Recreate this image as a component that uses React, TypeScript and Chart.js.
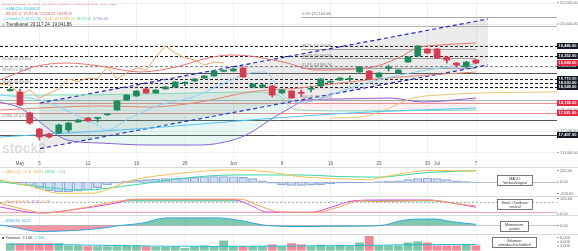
import React, { useEffect, useRef } from 'react';
import { Chart, registerables } from 'chart.js';

Chart.register(...registerables);

// ---------- layout ----------
const AXIS_W = 21;
const X_MIN = -2.06;
const X_MAX = 55.36;
const FONT = '"Liberation Sans", Arial, sans-serif';

const P_MAIN = { top: 0, h: 167, pad: 10, min: 16893, max: 20561 };
const P_MACD = { top: 167, h: 29, min: -244, max: 261 };
const P_STO = { top: 196, h: 19, min: 0, max: 115 };
const P_MOM = { top: 215, h: 19, min: -425, max: 525 };
const P_VOL = { top: 234, h: 17, min: -325, max: 7580 };

// ---------- time axis ----------
const firstIndex = -1;
const weekIdx = [2, 7, 12, 17, 22, 27, 32, 37, 42, 47];
const xLabelIdx = [0, 2, 7, 12, 17, 22, 27, 32, 37, 42, 43, 47];
const xLabelText = ['May', '5', '12', '19', '26', 'Jun', '9', '16', '23', '30', 'Jul', '7'];

// ---------- candles (index -1 .. 47) ----------
const opens = [18440, 18412, 17921, 17547, 17430, 17454, 17524, 17711, 17804, 17795, 17880, 17991, 18225, 18318, 18482, 18388, 18482, 18528, 18615, 18668, 18738, 18785, 18895, 18902, 18972, 18528, 18528, 18552, 18388, 18435, 18395, 18475, 18552, 18640, 18692, 18705, 18879, 18902, 18762, 18965, 18855, 19112, 19252, 19416, 19416, 19229, 19089, 18996, 19159];
const highs = [18490, 18480, 17940, 17560, 17450, 17660, 17700, 17770, 17815, 17815, 17905, 18210, 18350, 18445, 18495, 18470, 18540, 18655, 18650, 18725, 18795, 18915, 18925, 18960, 18985, 18610, 18590, 18570, 18470, 18445, 18458, 18552, 18725, 18670, 18750, 18785, 19010, 18915, 18865, 19040, 18935, 19240, 19500, 19430, 19430, 19240, 19100, 19125, 19170];
const lows = [18430, 18090, 17660, 17290, 17340, 17440, 17477, 17700, 17725, 17711, 17865, 17980, 18215, 18310, 18380, 18380, 18475, 18520, 18560, 18660, 18730, 18775, 18885, 18895, 18750, 18520, 18520, 18295, 18380, 18260, 18295, 18412, 18540, 18625, 18685, 18668, 18870, 18700, 18750, 18902, 18845, 19100, 19240, 19310, 19190, 19089, 18996, 18985, 19075];
const closes = [18470, 18108, 17687, 17360, 17360, 17641, 17687, 17757, 17734, 17810, 17895, 18201, 18341, 18435, 18388, 18458, 18528, 18645, 18630, 18715, 18785, 18902, 18910, 18949, 18762, 18598, 18575, 18341, 18458, 18271, 18380, 18490, 18715, 18655, 18738, 18720, 18996, 18715, 18855, 18980, 18925, 19229, 19486, 19323, 19206, 19159, 19042, 19112, 19089];
const volumes = [3150, 3150, 3150, 3150, 3150, 3150, 2100, 2100, 1750, 1750, 1750, 1750, 2100, 2100, 1750, 1400, 1400, 1750, 900, 1750, 2100, 1750, 4400, 1750, 1750, 1750, 1750, 2600, 1750, 3150, 2600, 1750, 2450, 1750, 2450, 1750, 3500, 6500, 2100, 2100, 2100, 3500, 4000, 3500, 2100, 2100, 2100, 2800, 2100];
const macdHist = [0, -20, -60, -110, -150, -170, -170, -160, -140, -100, -50, -20, 10, 30, 40, 50, 60, 60, 70, 80, 90, 95, 95, 90, 80, 60, 20, -20, -50, -60, -60, -55, -45, -30, -20, -15, -10, -5, 5, 10, 20, 40, 60, 70, 60, 40, 20, 5, -5];

// ---------- overlay lines in the price panel (x = bar index, y = price) ----------
const chanX = [2.06, 48.25];
const chanUpper = [18155, 20117];
const chanLower = [17090, 19042];
const bbUpperX = [-2.06, 0, 1.34, 4.85, 8.25, 12.37, 16.5, 18.56, 21.65, 23.71, 27.11, 30.62, 36.39, 39.18, 40.93, 43.3, 47];
const bbUpperV = [18692, 18879, 18996, 19089, 19019, 18879, 19019, 19159, 19276, 19252, 19112, 18925, 18996, 19229, 19439, 19509, 19556];
const bbLowerX = [-2.06, 2.06, 8.25, 13.4, 18.56, 23.71, 28.87, 32.99, 39.18, 47];
const bbLowerV = [17990, 18038, 18085, 18061, 18178, 18412, 18505, 18622, 18762, 18879];
const purpleX = [-2.06, 0, 2.06, 3.09, 4.85, 8.25, 13.4, 18.56, 21.96, 23.71, 25.77, 27.84, 29.59, 32.99, 38.14, 41.55, 47];
const purpleV = [18178, 18038, 17711, 17524, 17290, 17220, 17173, 17173, 17290, 17454, 17757, 18038, 18225, 18248, 18271, 18178, 18271];
const mintX = [-2.06, 3.09, 13.4, 23.71, 25.77, 27.11, 27.84, 28.87, 34.02, 47];
const mintV = [18341, 18341, 18365, 18412, 18388, 18271, 18061, 17991, 17968, 17991];
const tanX = [31.96, 35.05, 37.11, 40.52, 43.3, 47.42, 55.36];
const tanV = [17804, 17827, 17944, 18271, 18341, 18388, 18412];
const cyanX = [-2.06, 4.85, 13.4, 23.71, 34.02, 47];
const cyanV = [17360, 17454, 17570, 17757, 17921, 18038];
const emaX = [-2.06, 2.06, 5.15, 7.94, 8.97, 11.34, 14.43, 17.84, 20.62, 23.71, 25.26, 27.11, 28.87, 31.96, 35.05, 39.18, 43.3, 47];
const emaV = [18341, 18225, 17944, 17641, 17524, 17804, 18108, 18295, 18575, 18855, 18879, 18341, 18155, 18341, 18575, 18809, 18972, 19066];
const chikouShift = 26;

// ---------- horizontal levels ----------
const mainTicks = [17000, 17500, 18000, 18500, 19000, 19500, 20000, 20500];
const levelDashBlack = [19486, 19252, 18715, 18630, 18528];
const levelDashGrey = [19019];
const levelSolidDark = [18855, 17757, 17407];
const levelSolidGrey = [19953, 18225];
const levelRed = [18155, 17921];
const fibLevels = [20164, 19423, 19195, 18966, 18225];
const fibLabels = ['0.0% (20,164.00)', '38.2% (19,423.30)', '50.0% (19,194.50)', '61.8% (18,965.70)', '100.0% (18,225.00)'];
const fibStart = 29;
const fibEnd = 47;
const leftLabelV = [19182, 18925, 18645, 17851];
const leftLabelText = ['19,182.40 (78.6%)', '18,925.10 (61.8%)', '18,645.30 (50.0%)', '17,851.20 (23.6%)'];
const tagBlack = [19486, 19252, 19019, 18715, 18630, 18528, 17407];
const tagRed = [18155, 17921];

// ---------- indicator panels ----------
const macdX = [-2.06, 1.03, 4.12, 7.22, 11.65, 16.5, 21.96, 25.46, 28.87, 32.5, 36, 37.1, 39.5, 42.06, 47];
const macdV = [35, -70, -197, -197, 35, 151, 209, 179, 92, 60, 40, 75, 150, 200, 190];
const sigX = [-2.06, 2.06, 6.5, 11.65, 16.8, 21.96, 28.87, 33, 37.1, 39.5, 42.06, 47];
const sigV = [5, -82, -139, -52, 64, 122, 122, 95, 85, 120, 165, 197];
const macdTicks = [200, 0, -200];
const kX = [-2.06, 2.06, 5.15, 10, 11.65, 21.96, 23.7, 25.46, 30, 31.96, 34.4, 37.1, 42.06, 44.3, 47];
const kV = [48, 12, 30, 73, 95, 95, 60, 18, 16, 45, 86, 91, 91, 75, 47];
const dX = [-2.06, 0, 2.6, 6.2, 11, 12.4, 22.7, 24.7, 26.8, 30.4, 33, 35, 37.1, 42.06, 44.85, 47];
const dV = [71, 40, 12, 40, 91, 95, 95, 55, 18, 16, 50, 86, 81, 90, 70, 55];
const stoTicks = [100, 0];
const momX = [-2.06, -1.03, 2.06, 5.15, 8.25, 10.3, 12.4, 15.15, 20.3, 22.7, 25.46, 28.87, 32, 36, 37.6, 39.5, 41.2, 42.8, 44.5, 47];
const momV = [25, -50, -300, -260, -150, 0, 100, 380, 380, 250, 0, -50, -40, -30, 30, 260, 320, 320, 190, 60];
const momTicks = [0];
const vmaX = [-1, 5, 10, 15, 20, 25, 30, 35, 40, 45, 47];
const vmaV = [2800, 2600, 2200, 1900, 1800, 1900, 2100, 2200, 2600, 2700, 2700];
const volTicks = [6000, 4000, 2000];

// ---------- texts ----------
const legendMain: [string, string][][] = [
  [['● NASDAQ Composite · 1T · stock3   O 19,159.00  H 19,170.00  L 19,075.00  C 19,089.00  −70.00 (−0.37%)', '#e0455a']],
  [['— EMA (20)  19,066.12', '#29b6f6']],
  [['— BB (20, 2)  19,217.40  19,556.21  18,878.59', '#d9574f']],
  [['— Ichimoku (9, 26, 52, 26)', '#26c6da'], ['  19,042.50', '#f5a35f'], ['  18,880.00', '#e2b84a'], ['  18,271.00', '#3dcfa0'], ['  17,991.00', '#8b65d6']],
  [['○ Trendkanal  20,117.24  19,041.86', '#333333']],
];
const legendMainY = [4.2, 8.9, 14, 19.2, 24.3];
const legendMainW = [116, 38, 70, 106, 70];

const GREEN = '#1e8c5c';
const RED = '#d93a4f';

type Level = { v: number; color: string; dash?: number[]; w?: number; from?: number; to?: number };

function backPlugin(id: string, cfg: { hGrid?: number[]; levels?: Level[]; watermark?: boolean }) {
  return {
    id,
    beforeDatasetsDraw(chart: any) {
      const { ctx, chartArea: a, scales } = chart;
      const xs = scales.x;
      const ys = scales.y;
      ctx.save();
      ctx.lineWidth = 1;
      ctx.strokeStyle = '#f0f0f3';
      (cfg.hGrid || []).forEach((v) => {
        const py = Math.round(ys.getPixelForValue(v)) + 0.5;
        ctx.beginPath(); ctx.moveTo(a.left, py); ctx.lineTo(a.right, py); ctx.stroke();
      });
      weekIdx.forEach((i) => {
        const px = Math.round(xs.getPixelForValue(i)) + 0.5;
        ctx.beginPath(); ctx.moveTo(px, a.top); ctx.lineTo(px, a.bottom); ctx.stroke();
      });
      if (cfg.watermark) {
        ctx.font = `bold 14px ${FONT}`;
        ctx.fillStyle = 'rgba(0,0,0,0.13)';
        ctx.textBaseline = 'alphabetic';
        ctx.textAlign = 'left';
        ctx.fillText('stock3', 2, 153, 44);
      }
      (cfg.levels || []).forEach((l) => {
        const py = Math.round(ys.getPixelForValue(l.v)) + 0.5;
        const x0 = l.from === undefined ? a.left : xs.getPixelForValue(l.from);
        const x1 = l.to === undefined ? a.right : xs.getPixelForValue(l.to);
        ctx.setLineDash(l.dash || []);
        ctx.strokeStyle = l.color;
        ctx.lineWidth = l.w || 1;
        ctx.beginPath(); ctx.moveTo(x0, py); ctx.lineTo(x1, py); ctx.stroke();
      });
      ctx.restore();
    },
  };
}

function baseOptions(min: number, max: number, bottomPad = 0): any {
  return {
    responsive: false,
    animation: false,
    devicePixelRatio: 1,
    events: [],
    layout: { padding: { left: 0, right: AXIS_W, top: 0, bottom: bottomPad } },
    plugins: { legend: { display: false }, tooltip: { enabled: false } },
    scales: {
      x: { type: 'linear', min: X_MIN, max: X_MAX, display: false, offset: false },
      y: { type: 'linear', min, max, display: false },
    },
  };
}

const L = (xs: number[], ys: number[], color: string, extra: any = {}) => ({
  type: 'line',
  data: xs.map((x, k) => ({ x, y: ys[k] })),
  borderColor: color,
  borderWidth: 1,
  pointRadius: 0,
  fill: false,
  tension: 0,
  ...extra,
});

const fmt = (v: number, d = 2) => v.toLocaleString('en-US', { minimumFractionDigits: d, maximumFractionDigits: d });

function text(ctx: CanvasRenderingContext2D, s: string, x: number, y: number, color: string, size: number, align: CanvasTextAlign = 'left', maxW?: number, weight = '') {
  ctx.font = `${weight} ${size}px ${FONT}`.trim();
  ctx.fillStyle = color;
  ctx.textAlign = align;
  ctx.textBaseline = 'middle';
  if (maxW) ctx.fillText(s, x, y, maxW);
  else ctx.fillText(s, x, y);
}

function row(ctx: CanvasRenderingContext2D, segs: [string, string][], x: number, y: number, maxW: number, maxSize = 4.6) {
  ctx.font = `10px ${FONT}`;
  const total = segs.reduce((a, [s]) => a + ctx.measureText(s).width, 0);
  const size = Math.min(maxSize, (10 * maxW) / total);
  ctx.font = `${size}px ${FONT}`;
  ctx.textBaseline = 'middle';
  ctx.textAlign = 'left';
  let cx = x;
  segs.forEach(([s, c]) => {
    ctx.fillStyle = c;
    ctx.fillText(s, cx, y);
    cx += ctx.measureText(s).width;
  });
}

function infoBox(ctx: CanvasRenderingContext2D, x: number, y: number, w: number, h: number, l1: string, l2: string) {
  ctx.fillStyle = '#ffffff';
  ctx.fillRect(x, y, w, h);
  ctx.strokeStyle = '#555';
  ctx.lineWidth = 0.8;
  ctx.strokeRect(x + 0.5, y + 0.5, w - 1, h - 1);
  text(ctx, l1, x + w / 2, y + h * 0.33, '#333', 3.6, 'center', w - 4);
  text(ctx, l2, x + w / 2, y + h * 0.7, '#333', 3.6, 'center', w - 4);
}

export default function App() {
  const mainRef = useRef<HTMLCanvasElement>(null);
  const macdRef = useRef<HTMLCanvasElement>(null);
  const stoRef = useRef<HTMLCanvasElement>(null);
  const momRef = useRef<HTMLCanvasElement>(null);
  const volRef = useRef<HTMLCanvasElement>(null);
  const ovRef = useRef<HTMLCanvasElement>(null);

  useEffect(() => {
    const charts: Chart[] = [];
    const idx = opens.map((_, k) => k + firstIndex);
    const up = closes.map((c, k) => c >= opens[k]);
    const cCol = up.map((u) => (u ? GREEN : RED));
    const chikouX = idx.map((i) => i - chikouShift).filter((i) => i >= X_MIN - 1);
    const chikouV = closes.slice(closes.length - chikouX.length);
    const smooth = { cubicInterpolationMode: 'monotone' };

    const mainLevels: Level[] = [
      ...levelSolidGrey.map((v) => ({ v, color: '#b4b4b4' })),
      ...levelRed.map((v) => ({ v, color: '#f09090' })),
      ...levelSolidDark.map((v) => ({ v, color: '#555555' })),
      ...levelDashGrey.map((v) => ({ v, color: '#8a8a8a', dash: [3, 2] })),
      ...levelDashBlack.map((v) => ({ v, color: '#1a1a1a', dash: [3, 2], w: 1.1 })),
      ...fibLevels.map((v, k) => ({ v, color: '#a8a8a8', from: fibStart, to: k === 0 ? undefined : fibEnd })),
    ];

    const main = new Chart(mainRef.current as HTMLCanvasElement, {
      type: 'bar',
      data: {
        datasets: [
          L(chanX, chanUpper, '#2626c9', { borderDash: [4, 3], borderWidth: 1.2, fill: { target: 1, above: 'rgba(110,110,110,0.14)', below: 'rgba(110,110,110,0.14)' }, order: 40 }),
          L(chanX, chanLower, '#2626c9', { borderDash: [4, 3], borderWidth: 1.2, order: 39 }),
          L(mintX, mintV, '#7edcb4', { ...smooth, fill: { target: 3, above: 'rgba(70,190,160,0.13)', below: 'rgba(240,110,130,0.10)' }, order: 38 }),
          L(purpleX, purpleV, '#8b65d6', { ...smooth, order: 37 }),
          L(tanX, tanV, '#eac46e', { ...smooth, order: 36 }),
          L(cyanX, cyanV, '#4fc3f7', { ...smooth, order: 35 }),
          L(bbLowerX, bbLowerV, '#e4866f', { ...smooth, order: 34 }),
          L(bbUpperX, bbUpperV, '#e57373', { ...smooth, order: 33 }),
          L(emaX, emaV, '#8fd0f5', { ...smooth, order: 32 }),
          L(chikouX, chikouV, '#f5a35f', { order: 31 }),
          { type: 'bar', data: idx.map((x, k) => ({ x, y: [lows[k], highs[k]] })), backgroundColor: cCol, barThickness: 1, grouped: false, order: 2 },
          { type: 'bar', data: idx.map((x, k) => ({ x, y: [opens[k], closes[k]] })), backgroundColor: cCol, barThickness: 6, grouped: false, minBarLength: 1, order: 1 },
        ] as any,
      },
      options: baseOptions(P_MAIN.min, P_MAIN.max, P_MAIN.pad),
      plugins: [backPlugin('mainBack', { hGrid: mainTicks, levels: mainLevels, watermark: true })],
    });
    charts.push(main);

    const macd = new Chart(macdRef.current as HTMLCanvasElement, {
      type: 'bar',
      data: {
        datasets: [
          { type: 'bar', data: idx.map((x, k) => ({ x, y: macdHist[k] })), backgroundColor: 'rgba(150,185,235,0.45)', borderColor: 'rgba(110,140,200,0.75)', borderWidth: 0.7, barThickness: 8.6, order: 3 },
          L(sigX, sigV, '#33d6a6', { ...smooth, order: 2 }),
          L(macdX, macdV, '#f5c04f', { ...smooth, order: 1 }),
        ] as any,
      },
      options: baseOptions(P_MACD.min, P_MACD.max),
      plugins: [backPlugin('macdBack', { levels: [{ v: 0, color: '#b8c4d6' }] })],
    });
    charts.push(macd);

    const sto = new Chart(stoRef.current as HTMLCanvasElement, {
      type: 'line',
      data: {
        datasets: [
          L(kX, kV, 'rgba(0,0,0,0)', { ...smooth, borderWidth: 0, fill: { target: { value: 20 }, above: 'rgba(0,0,0,0)', below: 'rgba(242,80,100,0.6)' }, order: 5 }),
          L(kX, kV, '#d94fe8', { ...smooth, fill: { target: { value: 80 }, above: 'rgba(38,166,120,0.6)', below: 'rgba(0,0,0,0)' }, order: 2 }),
          L(dX, dV, '#f3a25a', { ...smooth, order: 1 }),
        ] as any,
      },
      options: baseOptions(P_STO.min, P_STO.max),
      plugins: [backPlugin('stoBack', { levels: [{ v: 80, color: '#b0b0b0', dash: [2, 2] }, { v: 20, color: '#f4a6b6' }] })],
    });
    charts.push(sto);

    const mom = new Chart(momRef.current as HTMLCanvasElement, {
      type: 'line',
      data: {
        datasets: [
          L(momX, momV, '#2ea6df', { ...smooth, fill: { target: { value: 0 }, above: 'rgba(38,166,120,0.6)', below: 'rgba(242,80,100,0.6)' } }),
        ] as any,
      },
      options: baseOptions(P_MOM.min, P_MOM.max),
      plugins: [backPlugin('momBack', { levels: [{ v: 0, color: '#c0c8d0' }] })],
    });
    charts.push(mom);

    const vol = new Chart(volRef.current as HTMLCanvasElement, {
      type: 'bar',
      data: {
        datasets: [
          { type: 'bar', data: idx.map((x, k) => ({ x, y: volumes[k] })), backgroundColor: up.map((u) => (u ? 'rgba(38,160,110,0.6)' : 'rgba(242,70,95,0.65)')), barThickness: 8.2, order: 2 },
          L(vmaX, vmaV, '#26bcd6', { ...smooth, order: 1 }),
        ] as any,
      },
      options: baseOptions(P_VOL.min, P_VOL.max),
      plugins: [backPlugin('volBack', {})],
    });
    charts.push(vol);

    // ---------- overlay: axes labels, tags, legends ----------
    const ov = ovRef.current as HTMLCanvasElement;
    const ctx = ov.getContext('2d') as CanvasRenderingContext2D;
    ctx.clearRect(0, 0, ov.width, ov.height);
    const xs: any = main.scales.x;
    const py = (c: any, top: number, v: number) => top + c.scales.y.getPixelForValue(v);

    ctx.strokeStyle = '#d9d9d9';
    ctx.lineWidth = 1;
    [P_MACD.top, P_STO.top, P_MOM.top, P_VOL.top].forEach((t) => {
      ctx.beginPath(); ctx.moveTo(0, t + 0.5); ctx.lineTo(578, t + 0.5); ctx.stroke();
    });

    const axisLabel = (y: number, s: string) => {
      ctx.strokeStyle = '#999';
      ctx.beginPath(); ctx.moveTo(557, y); ctx.lineTo(559, y); ctx.stroke();
      text(ctx, s, 560, y, '#6a6d78', 4, 'left', 18);
    };
    mainTicks.forEach((v) => axisLabel(py(main, P_MAIN.top, v), fmt(v)));
    macdTicks.forEach((v) => axisLabel(py(macd, P_MACD.top, v), fmt(v)));
    stoTicks.forEach((v) => axisLabel(Math.min(py(sto, P_STO.top, v), 214), fmt(v)));
    momTicks.forEach((v) => axisLabel(py(mom, P_MOM.top, v), fmt(v)));
    volTicks.forEach((v) => axisLabel(py(vol, P_VOL.top, v), fmt(v, 0)));

    xLabelIdx.forEach((i, k) => text(ctx, xLabelText[k], xs.getPixelForValue(i), 163.5, '#555', 4.5, 'center'));

    const tag = (v: number, bg: string) => {
      const y = py(main, P_MAIN.top, v);
      ctx.fillStyle = bg;
      ctx.fillRect(557, y - 3, 21, 6);
      text(ctx, fmt(v), 567.5, y + 0.2, '#ffffff', 4, 'center', 19.5, 'bold');
    };
    tagBlack.forEach((v) => tag(v, '#131722'));
    tagRed.forEach((v) => tag(v, '#e5283f'));
    tag(closes[closes.length - 1], '#e5283f');

    fibLevels.forEach((v, k) => text(ctx, fibLabels[k], xs.getPixelForValue(fibStart) + 1, py(main, P_MAIN.top, v) - 3, '#7a7a7a', 3.8, 'left', 30));
    leftLabelV.forEach((v, k) => text(ctx, leftLabelText[k], 2, py(main, P_MAIN.top, v), '#7a7a7a', 3.8, 'left', 29));

    legendMain.forEach((segs, k) => row(ctx, segs, 2, legendMainY[k], legendMainW[k]));
    row(ctx, [['— MACD (12, 26, 9)', '#eab04a'], ['  189.91', '#eab04a'], ['  197.04', '#2ec99b'], ['  −7.13', '#6f9bd1']], 2, 171.8, 63);
    row(ctx, [['— Stoch (14, 3, 3)', '#ef8a5d'], ['  47.21', '#d94fe8'], ['  55.38', '#f3a25a']], 2, 201.6, 48);
    row(ctx, [['— MOM (10)', '#2ea6df'], ['  60.25', '#2ea6df']], 2, 220.7, 28);
    row(ctx, [['■ Volumen', '#444444'], ['  2.10K', '#444444'], ['  2.70K', '#26bcd6']], 2, 238.3, 43);

    infoBox(ctx, 497, 175, 36, 11, 'MACD:', 'Verkaufssignal');
    infoBox(ctx, 497, 199, 36, 11, 'Stoch. Oszillator:', 'neutral');
    infoBox(ctx, 500, 221, 29, 11, 'Momentum:', 'positiv');
    infoBox(ctx, 492, 237, 45, 11, 'Volumen:', 'unterdurchschnittlich');

    return () => {
      charts.forEach((c) => c.destroy());
    };
  }, []);

  const abs = (top: number): React.CSSProperties => ({ position: 'absolute', left: 0, top });

  return (
    <div style={{ position: 'fixed', left: 0, top: 0, width: 578, height: 251, background: '#ffffff', overflow: 'hidden' }}>
      <canvas ref={mainRef} width={578} height={P_MAIN.h} style={abs(P_MAIN.top)} />
      <canvas ref={macdRef} width={578} height={P_MACD.h} style={abs(P_MACD.top)} />
      <canvas ref={stoRef} width={578} height={P_STO.h} style={abs(P_STO.top)} />
      <canvas ref={momRef} width={578} height={P_MOM.h} style={abs(P_MOM.top)} />
      <canvas ref={volRef} width={578} height={P_VOL.h} style={abs(P_VOL.top)} />
      <canvas ref={ovRef} width={578} height={251} style={{ ...abs(0), pointerEvents: 'none' }} />
    </div>
  );
}
